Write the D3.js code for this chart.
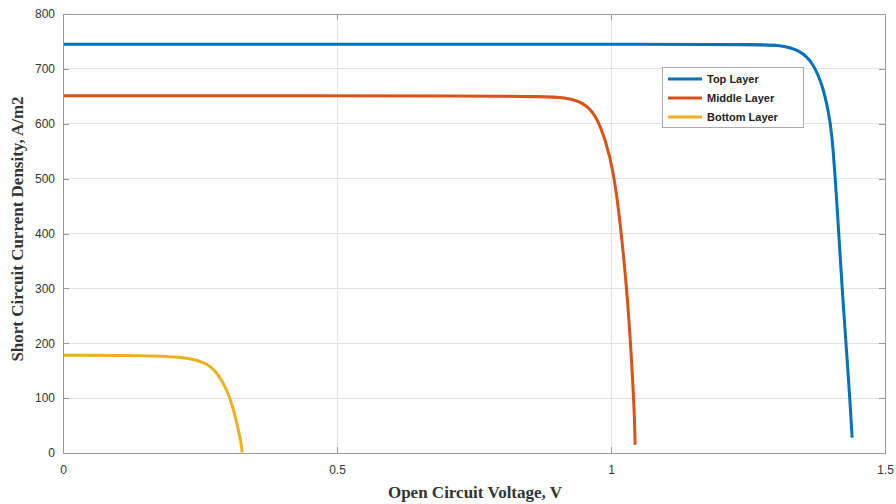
<!DOCTYPE html>
<html>
<head>
<meta charset="utf-8">
<title>IV curves</title>
<script src="https://d3js.org/d3.v7.min.js"></script>
<style>
    body { margin: 0; background: #fff; }
    .axis path, .axis line { fill: none; stroke: #9a9a9a; shape-rendering: crispEdges; }
    .axis text { font-family: "Liberation Sans", Arial, sans-serif; font-size: 12px; fill: #333; }
    .grid line { stroke: #e4e4e4; shape-rendering: crispEdges; }
    .title { font-family: "Liberation Serif", "Times New Roman", serif; font-weight: bold; font-size: 17px; fill: #333; }
    .legend text { font-family: "Liberation Sans", Arial, sans-serif; font-weight: bold; font-size: 11px; fill: #222; }
</style>
</head>
<body>
<script>
    var w = 896, h = 504;
    var margin = {left: 63, right: 11, top: 14, bottom: 51};

    var seriesNames = ["Top Layer", "Middle Layer", "Bottom Layer"];
    var seriesColors = ["#0072BD", "#D95319", "#EDB120"];

    // voltage (V) and current density (A/m2)
    var topV = [0, 1.25, 1.308, 1.345, 1.369, 1.387, 1.396, 1.403, 1.412, 1.423, 1.432, 1.437, 1.44];
    var topJ = [745, 745, 744, 734, 711, 667, 625, 588, 461, 278, 156, 80, 28];
    var midV = [0, 0.834, 0.925, 0.956, 0.974, 0.99, 1.004, 1.016, 1.031, 1.04, 1.043, 1.044];
    var midJ = [651, 651, 649, 634, 612, 570, 516, 430, 278, 127, 60, 15];
    var botV = [0, 0.159, 0.232, 0.263, 0.278, 0.29, 0.3, 0.308, 0.315, 0.321, 0.325, 0.327];
    var botJ = [178, 178, 174, 163, 150, 132, 112, 90, 64, 38, 18, 1];

    var xTicks = [0, 0.5, 1, 1.5];
    var yTicks = [0, 100, 200, 300, 400, 500, 600, 700, 800];

    var series = [[topV, topJ], [midV, midJ], [botV, botJ]];

    var xScale = d3.scaleLinear().domain([0, 1.5]).range([margin.left, w - margin.right]);
    var yScale = d3.scaleLinear().domain([0, 800]).range([h - margin.bottom, margin.top]);

    var svg = d3.select("body").append("svg").attr("width", w).attr("height", h);

    // grid
    var grid = svg.append("g").attr("class", "grid");
    grid.selectAll(".gy").data(yTicks.slice(1, -1)).enter().append("line")
        .attr("x1", margin.left).attr("x2", w - margin.right)
        .attr("y1", function(d){ return yScale(d); }).attr("y2", function(d){ return yScale(d); });
    grid.selectAll(".gx").data(xTicks.slice(1, -1)).enter().append("line")
        .attr("y1", margin.top).attr("y2", h - margin.bottom)
        .attr("x1", function(d){ return xScale(d); }).attr("x2", function(d){ return xScale(d); });

    // curves
    var line = d3.line()
        .x(function(d){ return xScale(d[0]); })
        .y(function(d){ return yScale(d[1]); })
        .curve(d3.curveBasis);
    series.forEach(function(s, i) {
        var pts = s[0].map(function(v, k){ return [v, s[1][k]]; });
        svg.append("path").datum(pts)
            .attr("fill", "none")
            .attr("stroke", seriesColors[i])
            .attr("stroke-width", 3)
            .attr("d", line);
    });

    // axes, ticks pointing inward like matlab
    var fmt = function(d){ return String(d); };
    svg.append("g").attr("class", "axis")
        .attr("transform", "translate(0," + (h - margin.bottom) + ")")
        .call(d3.axisBottom(xScale).tickValues(xTicks).tickFormat(fmt).tickSizeInner(-6).tickSizeOuter(0).tickPadding(12));
    svg.append("g").attr("class", "axis")
        .attr("transform", "translate(0," + margin.top + ")")
        .call(d3.axisTop(xScale).tickValues(xTicks).tickFormat("").tickSizeInner(-6).tickSizeOuter(0));
    svg.append("g").attr("class", "axis")
        .attr("transform", "translate(" + margin.left + ",0)")
        .call(d3.axisLeft(yScale).tickValues(yTicks).tickFormat(fmt).tickSizeInner(-6).tickSizeOuter(0).tickPadding(8));
    svg.append("g").attr("class", "axis")
        .attr("transform", "translate(" + (w - margin.right) + ",0)")
        .call(d3.axisRight(yScale).tickValues(yTicks).tickFormat("").tickSizeInner(-6).tickSizeOuter(0));

    // axis titles
    svg.append("text").attr("class", "title")
        .attr("x", 475).attr("y", 498)
        .attr("text-anchor", "middle")
        .text("Open Circuit Voltage, V");
    svg.append("text").attr("class", "title")
        .attr("transform", "translate(23,229) rotate(-90)")
        .attr("text-anchor", "middle")
        .text("Short Circuit Current Density, A/m2");

    // legend
    var lg = svg.append("g").attr("class", "legend").attr("transform", "translate(662,67)");
    lg.append("rect").attr("width", 141).attr("height", 60)
        .attr("fill", "#fff").attr("stroke", "#aaa").attr("shape-rendering", "crispEdges");
    seriesNames.forEach(function(name, i) {
        var yy = 12 + i * 19;
        lg.append("line").attr("x1", 6).attr("x2", 40).attr("y1", yy).attr("y2", yy)
            .attr("stroke", seriesColors[i]).attr("stroke-width", 3);
        lg.append("text").attr("x", 45).attr("y", yy + 4).text(name);
    });
</script>
</body>
</html>
